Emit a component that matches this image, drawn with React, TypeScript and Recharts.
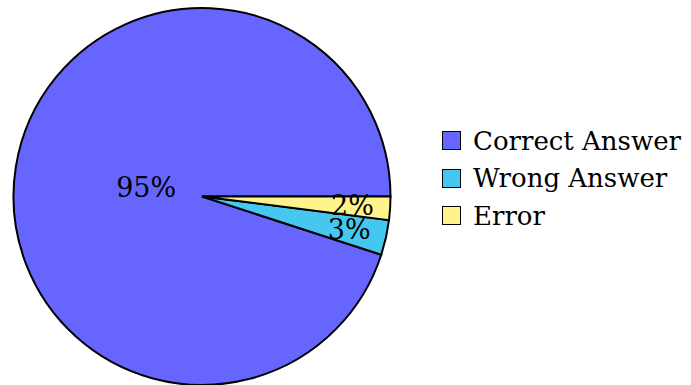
import React from "react";
import { PieChart, Pie, Cell } from "recharts";

const categories = ["Correct Answer", "Wrong Answer", "Error"];
const values = [95, 3, 2];
const colors = ["#6666FF", "#45C8F0", "#FFF38C"];

const data = categories.map((name, i) => ({ name, value: values[i] }));

const RAD = Math.PI / 180;
const FONT = "DejaVu Serif";

const renderLabel = (props: any) => {
  const { cx, cy, midAngle, outerRadius, percent, value } = props;
  const r = outerRadius * (percent > 0.5 ? 0.3 : 0.8);
  const x = cx + r * Math.cos(-midAngle * RAD);
  const y = cy + r * Math.sin(-midAngle * RAD);
  return (
    <text
      x={x}
      y={y}
      textAnchor="middle"
      dominantBaseline="central"
      style={{ fontFamily: FONT, fontSize: 27 }}
      fill="#000"
    >
      {`${value}%`}
    </text>
  );
};

export default function App() {
  return (
    <div style={{ position: "absolute", left: 0, top: 0, width: 691, height: 385, background: "#fff" }}>
      <PieChart width={691} height={385} margin={{ top: 0, right: 0, bottom: 0, left: 0 }}>
        <Pie
          data={data}
          dataKey="value"
          nameKey="name"
          cx={202}
          cy={196.5}
          outerRadius={188.5}
          startAngle={0}
          endAngle={360}
          stroke="#000"
          strokeWidth={2}
          label={renderLabel}
          labelLine={false}
          isAnimationActive={false}
        >
          {data.map((d, i) => (
            <Cell key={d.name} fill={colors[i]} />
          ))}
        </Pie>
      </PieChart>
      <div style={{ position: "absolute", left: 442, top: 122, width: 249 }}>
        {categories.map((name, i) => (
          <div key={name} style={{ display: "flex", alignItems: "center", height: 37.5 }}>
            <div
              style={{
                width: 17,
                height: 17,
                background: colors[i],
                border: "1.8px solid #000",
                marginRight: 12,
                flex: "none",
              }}
            />
            <span
              style={{
                fontFamily: FONT,
                fontSize: 26,
                color: "#000",
                lineHeight: "30px",
                whiteSpace: "nowrap",
              }}
            >
              {name}
            </span>
          </div>
        ))}
      </div>
    </div>
  );
}
